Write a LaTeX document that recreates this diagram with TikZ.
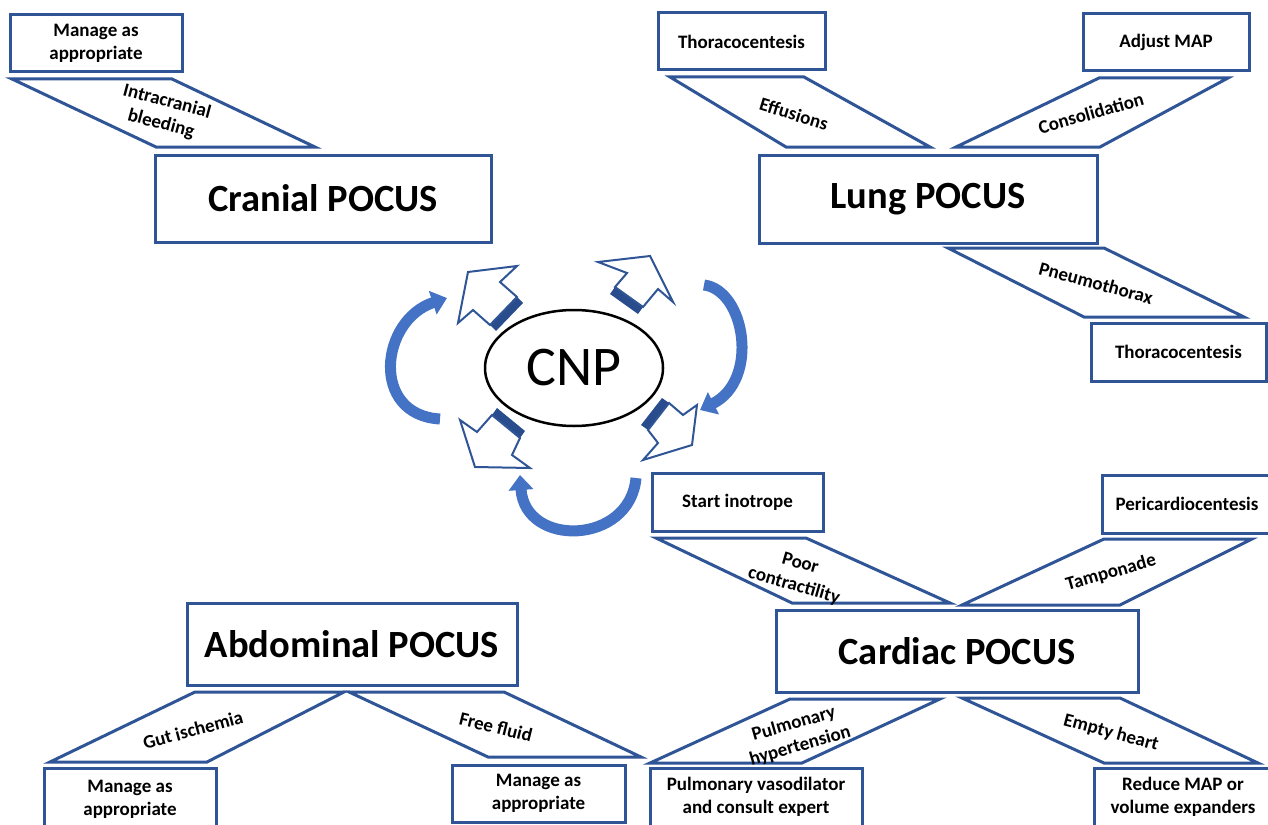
\documentclass[tikz,border=0pt]{standalone}
\usepackage{fontspec}
\setmainfont{Carlito}
\usetikzlibrary{arrows.meta,shapes.geometric}
\definecolor{bdr}{RGB}{47,85,151}
\definecolor{arcblue}{RGB}{68,114,196}
\definecolor{bardark}{RGB}{41,77,140}
\begin{document}
\begin{tikzpicture}[x=1pt,y=-1pt,
  smallbox/.style={draw=bdr,line width=3pt,fill=white,inner sep=0pt,align=center,
    font=\bfseries\fontsize{19}{23}\selectfont},
  bigbox/.style={draw=bdr,line width=3pt,fill=white,inner sep=0pt,align=center,
    font=\bfseries\fontsize{38.5}{44}\selectfont},
  para/.style={draw=bdr,line width=3pt,fill=white,line join=miter},
  lbl/.style={inner sep=0pt,align=center,font=\bfseries\fontsize{19}{23}\selectfont},
  blockarrow/.style={draw=bdr,line width=2pt,fill=white,line join=miter},
  blockbar/.style={fill=bardark,draw=none},
  arcarrow/.style={draw=arcblue,line width=11pt,-{Triangle[length=15pt,width=24pt]}}
]
\useasboundingbox (0,0) rectangle (1268,824);
\clip (0,0) rectangle (1268,824);

% ---------------- Cranial ----------------
\node[smallbox,minimum width=172pt,minimum height=57pt] (cman) at (96,43.5) {Manage as\\appropriate};
\draw[para] (12,79) -- (172,79) -- (315,147) -- (156,147) -- cycle;
\node[lbl,rotate=-15] (tintra) at (164,113) {Intracranial\\bleeding};
\node[bigbox,minimum width=336pt,minimum height=87pt] (cranial) at (323,198.5) {Cranial POCUS};

% ---------------- Lung ----------------
\node[smallbox,minimum width=167pt,minimum height=57pt] (lthora) at (741.5,41.5) {Thoracocentesis};
\node[smallbox,minimum width=166pt,minimum height=57pt] (ladj) at (1166,42.5) {Adjust MAP};
\draw[para] (670,77) -- (804,77) -- (930,147) -- (786,147) -- cycle;
\node[lbl,rotate=-17] (teff) at (794,114) {Effusions};
\draw[para] (1099,78) -- (1228,78) -- (1100,147) -- (956,147) -- cycle;
\node[lbl,rotate=16] (tcons) at (1091,113) {Consolidation};
\node[bigbox,minimum width=338pt,minimum height=88pt] (lung) at (928,199) {Lung POCUS};
\draw[para] (948,248) -- (1104,248) -- (1244,317) -- (1084,317) -- cycle;
\node[lbl,rotate=-15] (tpneu) at (1096,283) {Pneumothorax};
\node[smallbox,minimum width=175pt,minimum height=58pt] (lthorb) at (1178.5,352) {Thoracocentesis};

% ---------------- Abdominal ----------------
\node[bigbox,minimum width=330pt,minimum height=82pt] (abd) at (352,644) {Abdominal POCUS};
\draw[para] (195,692) -- (344,692) -- (207,762) -- (50,762) -- cycle;
\node[lbl,rotate=15] (tgut) at (193,730) {Gut ischemia};
\draw[para] (349,692) -- (504,692) -- (641,757) -- (488,757) -- cycle;
\node[lbl,rotate=-14] (tfree) at (496,727) {Free fluid};
\node[smallbox,minimum width=172pt,minimum height=62pt] (aman1) at (130,799) {Manage as\\appropriate};
\node[smallbox,minimum width=173pt,minimum height=57pt] (aman2) at (538.5,793.5) {Manage as\\appropriate};

% ---------------- Cardiac ----------------
\node[smallbox,minimum width=171pt,minimum height=58pt] (cstart) at (737.5,502) {Start inotrope};
\node[smallbox,minimum width=170pt,minimum height=58pt] (cperi) at (1187,504) {Pericardiocentesis};
\draw[para] (656,538) -- (806,538) -- (950,603) -- (792,603) -- cycle;
\node[lbl,rotate=-16] (tpoor) at (797,575) {Poor\\contractility};
\draw[para] (1104,539) -- (1252,539) -- (1120,605) -- (962,605) -- cycle;
\node[lbl,rotate=16] (ttamp) at (1111,573) {Tamponade};
\node[bigbox,minimum width=362pt,minimum height=82pt] (cardiac) at (957,651) {Cardiac POCUS};
\draw[para] (790,699) -- (940,699) -- (802,763) -- (650,763) -- cycle;
\node[lbl,rotate=16] (tpulm) at (797,735) {Pulmonary\\hypertension};
\draw[para] (962,698) -- (1120,698) -- (1258,763) -- (1104,763) -- cycle;
\node[lbl,rotate=-15] (tempty) at (1111,733) {Empty heart};
\node[smallbox,minimum width=212pt,minimum height=58pt] (cpulm) at (756,797) {Pulmonary vasodilator\\and consult expert};
\node[smallbox,minimum width=178pt,minimum height=58pt] (creduce) at (1183,797) {Reduce MAP or\\volume expanders};

% ---------------- Centre ----------------
\node[draw=black,line width=2.5pt,ellipse,minimum width=178pt,minimum height=116pt,inner sep=0pt,
  font=\fontsize{56}{60}\selectfont] (cnp) at (574,368) {CNP};

% block arrows (upper-left, upper-right, lower-right, lower-left)
\fill[blockbar] (517,297) -- (490,325) -- (496,331) -- (523,303) -- cycle;
\draw[blockarrow] (468,272) -- (517,266) -- (500,282) -- (517,297) -- (490,325) -- (473,310) -- (458,323) -- cycle;

\fill[blockbar] (643,307) -- (615,287) -- (610,294) -- (638,314) -- cycle;
\draw[blockarrow] (650,256) -- (673,302) -- (658,289) -- (643,307) -- (615,287) -- (627,273) -- (598,262) -- cycle;

\fill[blockbar] (669,403) -- (648,430) -- (641,425) -- (662,398) -- cycle;
\draw[blockarrow] (692,445) -- (697,405) -- (683,415) -- (669,403) -- (648,430) -- (658,443) -- (643,460) -- cycle;

\fill[blockbar] (492,415) -- (520,438) -- (525,431) -- (497,408) -- cycle;
\draw[blockarrow] (475,467) -- (460,420) -- (477,432) -- (492,415) -- (520,438) -- (512,455) -- (530,468) -- cycle;

% curved arrows
\coordinate (la0) at (440,419); \coordinate (la1) at (447,298);
\coordinate (ra0) at (704,285); \coordinate (ra1) at (700,410);
\coordinate (ba0) at (636,478); \coordinate (ba1) at (520,475);
\draw[arcarrow] (la0) .. controls (370,415) and (380,320) .. (la1);
\draw[arcarrow] (ra0) .. controls (745,290) and (760,380) .. (ra1);
\draw[arcarrow] (ba0) .. controls (630,545) and (525,548) .. (ba1);
\end{tikzpicture}
\end{document}
